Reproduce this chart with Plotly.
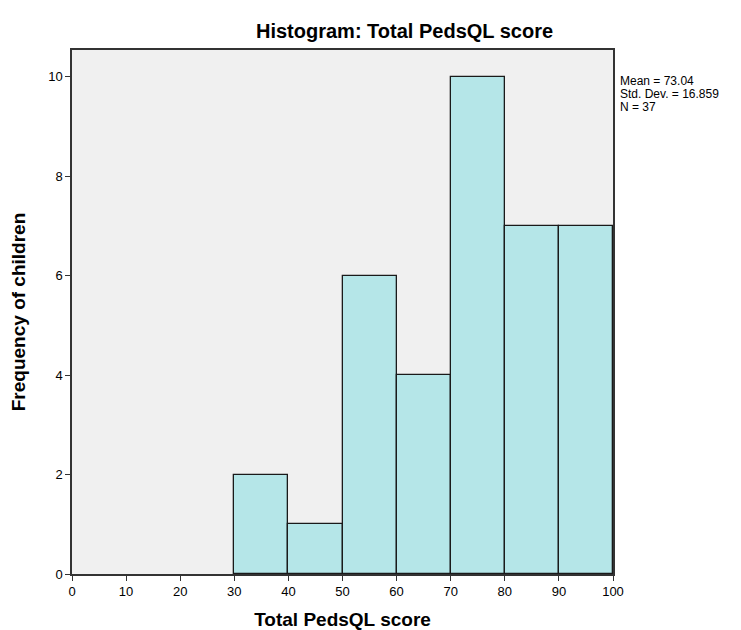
import plotly.graph_objects as go

# Histogram bins (left edges) and counts
bin_left = [30, 40, 50, 60, 70, 80, 90]
bin_width = 10
counts = [2, 1, 6, 4, 10, 7, 7]

x_ticks = [0, 10, 20, 30, 40, 50, 60, 70, 80, 90, 100]
y_ticks = [0, 2, 4, 6, 8, 10]

stats_lines = ["Mean = 73.04", "Std. Dev. = 16.859", "N = 37"]

FONT = "Liberation Sans, Arial"

fig = go.Figure()

fig.add_trace(go.Bar(
    x=[b + bin_width / 2 for b in bin_left],
    y=counts,
    width=[bin_width] * len(bin_left),
    marker=dict(color="#B5E6E8", line=dict(color="#1a1a1a", width=1.3)),
    showlegend=False,
    hoverinfo="x+y"
))

annotations = [
    dict(text="<b>Histogram: Total PedsQL score</b>", xref="paper", yref="paper",
         x=0.615, y=1, yshift=19, xanchor="center", yanchor="middle",
         showarrow=False, font=dict(size=20, family=FONT)),
]
# stats box to the right of the plot, tight line spacing
for i, line in enumerate(stats_lines):
    annotations.append(dict(
        text=line, xref="paper", yref="paper", x=1, xshift=5,
        y=0.94, yshift=-13 * i, xanchor="left", yanchor="middle", align="left",
        showarrow=False, font=dict(size=12, family=FONT)))

# page body adds a few px offset, so the figure is a bit smaller than the window
fig.update_layout(
    width=733, height=622,
    margin=dict(l=64, r=128, t=42, b=56),
    paper_bgcolor="white",
    plot_bgcolor="#F0F0F0",
    font=dict(family=FONT, size=12, color="black"),
    bargap=0,
    annotations=annotations
)

fig.update_xaxes(
    range=[0, 100], tickvals=x_ticks, ticks="outside", ticklen=5, tickcolor="#333",
    showgrid=False, zeroline=False, showline=True, linecolor="#333", linewidth=1.5,
    mirror=True, automargin=False,
    title=dict(text="<b>Total PedsQL score</b>", font=dict(size=19, family=FONT), standoff=24),
    tickfont=dict(size=13)
)
fig.update_yaxes(
    range=[0, 10.54], tickvals=y_ticks, ticks="outside", ticklen=5, tickcolor="#333",
    showgrid=False, zeroline=False, showline=True, linecolor="#333", linewidth=1.5,
    mirror=True, automargin=False,
    title=dict(text="<b>Frequency of children</b>", font=dict(size=19, family=FONT), standoff=22),
    tickfont=dict(size=13)
)

fig.write_html("out.html")
